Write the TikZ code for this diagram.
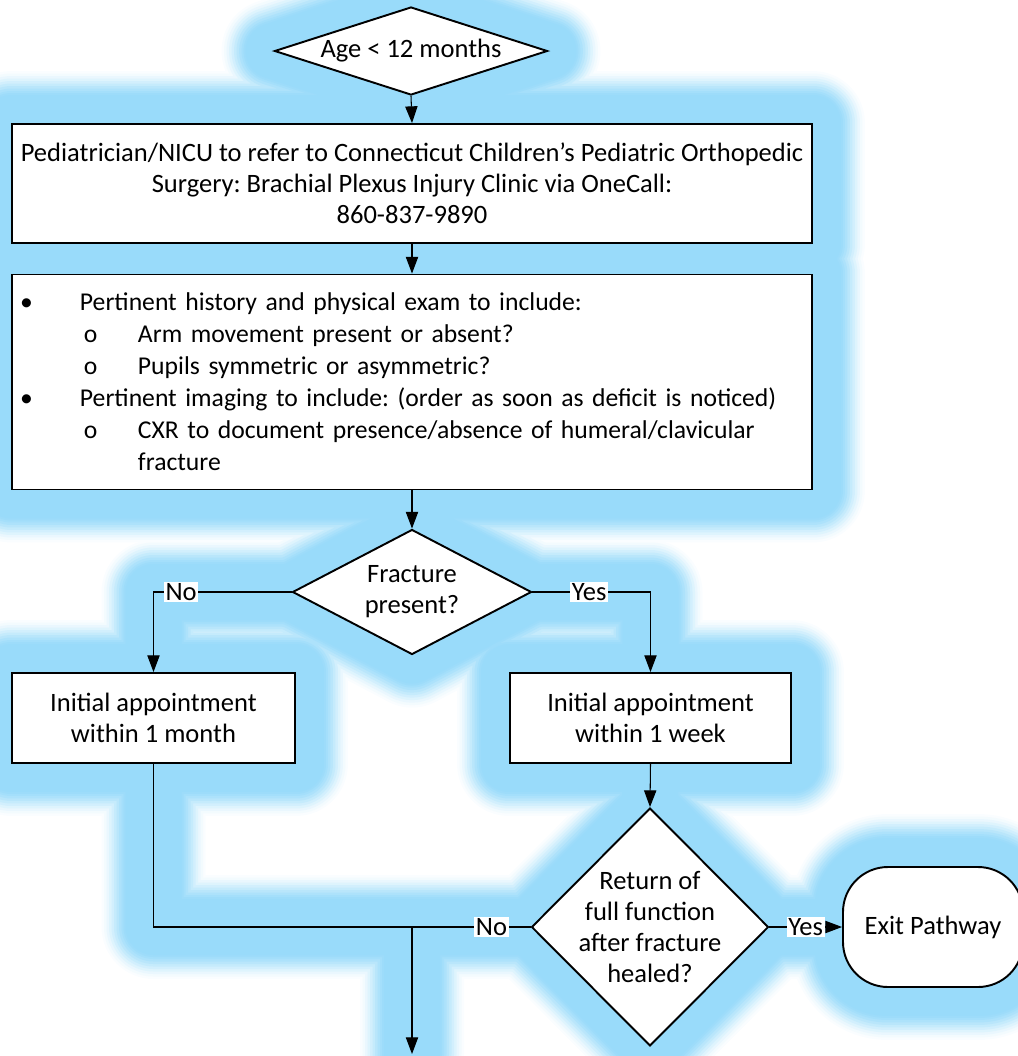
\documentclass[tikz,border=0pt]{standalone}
\usepackage{fontspec}
\setmainfont{Carlito}
\usetikzlibrary{shapes.geometric,arrows.meta}
\pgfdeclarelayer{background}
\pgfsetlayers{background,main}
\frenchspacing
\hyphenpenalty=10000
\newlength\pxu
\setlength\pxu{0.02cm}
\definecolor{glowc}{RGB}{153,219,250}
\newcommand\bul{\makebox[54\pxu][l]{\hspace*{-6\pxu}\textbullet}}
\newcommand\sub{\hspace*{58\pxu}\makebox[54\pxu][l]{o}}
\tikzset{
  box/.style={draw, line width=1.1pt, fill=white, inner sep=0pt, align=center},
  decision/.style={draw, diamond, line width=1.1pt, fill=white, inner sep=0pt, align=center},
  lbl/.style={fill=white, inner sep=1pt}
}
\begin{document}
\begin{tikzpicture}[x=0.02cm, y=-0.02cm, font=\fontsize{15.1}{17.6}\selectfont]
  \useasboundingbox (0,0) rectangle (1018,1056);
  \node[decision, aspect=3, minimum width=273\pxu, minimum height=88\pxu] (age) at (411,51) {Age < 12 months};
  \node[box, minimum width=800\pxu, minimum height=119\pxu] (refer) at (412,183.5)
    {Pediatrician/NICU to refer to Connecticut Children’s Pediatric Orthopedic\\Surgery: Brachial Plexus Injury Clinic via OneCall:\\860-837-9890};
  \node[box, align=left, inner xsep=14\pxu, text width=772\pxu, minimum height=215\pxu,
        font=\fontsize{14.6}{18.2}\selectfont] (hist) at (412,382)
    {\bul Pertinent history and physical exam to include:\\
     \sub Arm movement present or absent?\\
     \sub Pupils symmetric or asymmetric?\\
     \bul Pertinent imaging to include: (order as soon as deficit is noticed)\\
     \sub CXR to document presence/absence of humeral/clavicular\\
     \hspace*{112\pxu}fracture};
  \node[decision, aspect=1.9, minimum width=239\pxu, minimum height=125\pxu] (frac) at (412,592) {Fracture\\present?};
  \node[box, minimum width=283\pxu, minimum height=90\pxu] (lbox) at (153.5,718) {Initial appointment\\within 1 month};
  \node[box, minimum width=281\pxu, minimum height=90\pxu] (rbox) at (650.5,718) {Initial appointment\\within 1 week};
  \node[decision, aspect=1, inner sep=-15\pxu, minimum width=237\pxu, minimum height=238\pxu] (ret) at (650,927)
    {Return of\\full function\\after fracture\\healed?};
  \node[box, rounded corners=45\pxu, minimum width=180\pxu, minimum height=120\pxu] (exit) at (933,927) {Exit Pathway};
  \coordinate (merge) at (412,927);
  \coordinate (end) at (412,1054);
  \begin{scope}[-{Triangle[length=9.5pt,width=7pt]}, line width=0.6pt]
    \draw (age.south) -- (refer.north);
    \draw (refer.south) -- (hist.north);
    \draw (hist.south) -- (frac.north);
    \draw (frac.west) -| node[lbl, pos=0.4] {No} (lbox.north);
    \draw (frac.east) -| node[lbl, pos=0.24] {Yes} (rbox.north);
    \draw (rbox.south) -- (ret.north);
    \draw (ret.east) -- node[lbl] {Yes} (exit.west);
    \draw[-] (lbox.south) |- (merge);
    \draw[-] (ret.west) -- node[lbl, pos=0.33] {No} (merge);
    \draw (merge) -- (end);
  \end{scope}
  % soft blue glow behind everything
  \begin{pgfonlayer}{background}
    \begin{scope}[shift={(3,3)}, line join=round, line cap=round]
      \foreach \w/\c in {104/5,99/12,94/21,89/32,84/44,79/57,74/69,69/80,64/89,60/96,56/100} {
        \filldraw[glowc!\c!white, line width=\w\pxu]
          (age.north) -- (age.east) -- (age.south) -- (age.west) -- cycle
          (refer.north west) rectangle (refer.south east)
          (hist.north west) rectangle (hist.south east)
          (frac.north) -- (frac.east) -- (frac.south) -- (frac.west) -- cycle
          (lbox.north west) rectangle (lbox.south east)
          (rbox.north west) rectangle (rbox.south east)
          (ret.north) -- (ret.east) -- (ret.south) -- (ret.west) -- cycle
          [rounded corners=45\pxu] (exit.north west) rectangle (exit.south east);
        \draw[glowc!\c!white, line width=\w\pxu]
          (age.south) -- (refer.north)
          (refer.south) -- (hist.north)
          (hist.south) -- (frac.north)
          (frac.west) -| (lbox.north)
          (frac.east) -| (rbox.north)
          (rbox.south) -- (ret.north)
          (ret.east) -- (exit.west)
          (lbox.south) |- (merge)
          (ret.west) -- (merge)
          (merge) -- (end);
      }
    \end{scope}
  \end{pgfonlayer}
\end{tikzpicture}
\end{document}
